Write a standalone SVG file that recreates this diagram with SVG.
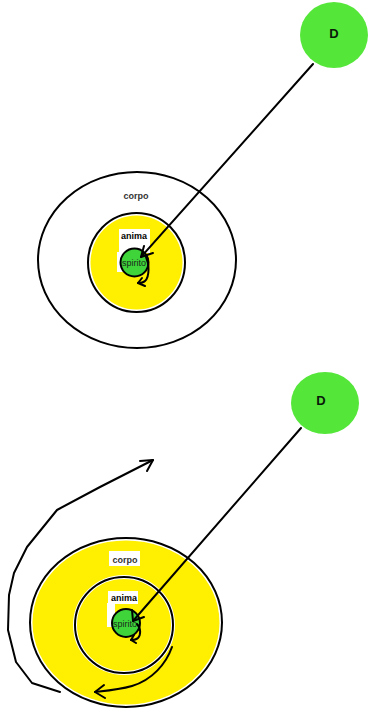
<svg xmlns="http://www.w3.org/2000/svg" width="368" height="718" viewBox="0 0 368 718">
<defs>
<style>
.ring{fill:none;stroke:#000;stroke-width:2}
.yel{fill:#FFEF00}
.grn{fill:#55E63A}
.sp{fill:#3ED43A;stroke:#000;stroke-width:2}
.ln{fill:none;stroke:#000;stroke-width:2;stroke-linecap:round;stroke-linejoin:round}
.lbl{font-family:"Liberation Sans",Arial,sans-serif;font-weight:bold;font-size:9px;text-anchor:middle}
.dl{font-family:"Liberation Sans",Arial,sans-serif;font-weight:bold;font-size:13px;text-anchor:middle;fill:#0a1a0a}
.spt{font-family:"Liberation Sans",Arial,sans-serif;font-size:9px;text-anchor:middle;fill:#1a2a1a}
</style>
</defs>
<rect width="368" height="718" fill="#fff"/>

<!-- Top diagram -->
<g id="top-corpo">
<ellipse class="ring" cx="137" cy="260" rx="99" ry="88"/>
<text class="lbl" x="136" y="199" fill="#333">corpo</text>
</g>
<g id="top-anima">
<ellipse class="yel" cx="136.5" cy="262.5" rx="46" ry="47"/>
<rect x="119" y="229" width="31" height="24" fill="#fff"/>
<rect x="117" y="252" width="8" height="20" fill="#fff"/>
<ellipse class="ring" cx="136.5" cy="262.5" rx="48.5" ry="49.5"/>
<text class="lbl" x="134" y="239" fill="#000">anima</text>
</g>
<g id="top-spirito">
<circle class="sp" cx="134.5" cy="262.5" r="14"/>
<text class="spt" x="134" y="266">spirito</text>
</g>
<g id="top-D">
<ellipse class="grn" cx="334" cy="35" rx="34" ry="33"/>
<text class="dl" x="334" y="38">D</text>
</g>

<!-- Bottom diagram -->
<g id="bottom-corpo">
<ellipse class="yel" cx="126" cy="622.5" rx="93.5" ry="82"/>
<rect x="109" y="551" width="31" height="15" fill="#fff"/>
<ellipse class="ring" cx="126" cy="622.5" rx="96" ry="84.5"/>
<text class="lbl" x="125" y="563" fill="#333">corpo</text>
</g>
<g id="bottom-anima">
<ellipse cx="124" cy="625" rx="49" ry="48" fill="none" stroke="#fff" stroke-width="4"/>
<rect x="108" y="591" width="30" height="13" fill="#fff"/>
<rect x="107" y="603" width="8" height="24" fill="#fff"/>
<ellipse class="ring" cx="124" cy="625" rx="49" ry="48"/>
<text class="lbl" x="124" y="601" fill="#000">anima</text>
</g>
<g id="bottom-spirito">
<circle class="sp" cx="126" cy="623" r="14"/>
<text class="spt" x="125" y="627">spirito</text>
</g>
<g id="bottom-D">
<ellipse class="grn" cx="325" cy="403" rx="34" ry="31"/>
<text class="dl" x="321" y="405">D</text>
</g>

<!-- Connectors -->
<g id="connectors">
<path class="ln" d="M313 64 L141 257"/>
<path class="ln" d="M144 246 L141 257 L153 253"/>
<path class="ln" d="M146 257 C149 263 150 276 145 281 C143 283 140 283 138 283"/>
<path class="ln" d="M142 278 L138 283 L145 286"/>

<path class="ln" d="M301 428 L133 621"/>
<path class="ln" d="M132 610 L133 621 L144 617"/>
<path class="ln" d="M137 624 C141 628 141 635 138 638 C136 640 133 640 131 640"/>
<path class="ln" d="M134 635 L131 640 L136 643"/>

<path class="ln" d="M172 647 C166 664 152 680 132 686 C118 690 104 691 95 692"/>
<path class="ln" d="M104 685 L95 692 L105 698"/>

<path class="ln" d="M60 692 L32 683 L16 662 L8 630 L9 595 L14 573 L27 547 L57 510 L100 487 L153 460"/>
<path class="ln" d="M140 461 L153 460 L147 471"/>
</g>
</svg>
